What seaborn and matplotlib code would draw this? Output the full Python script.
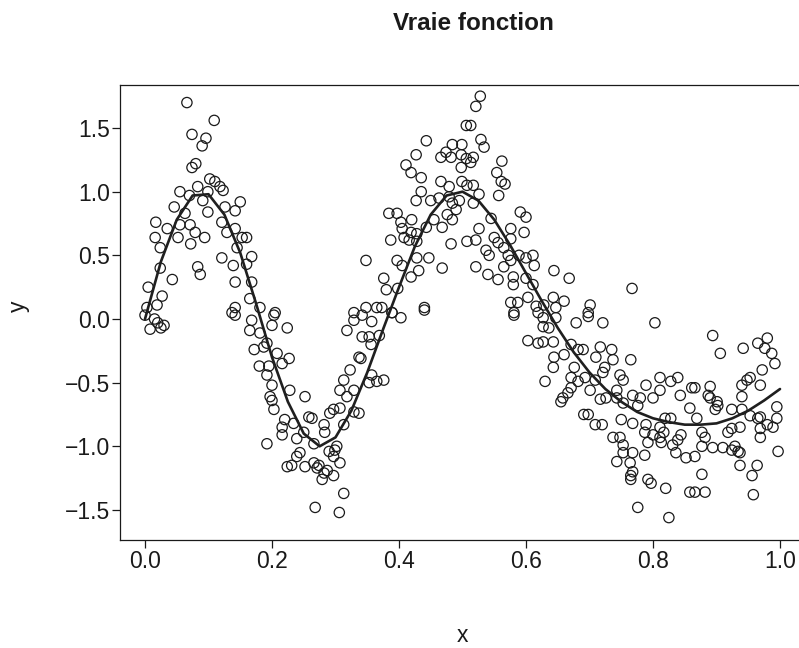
import numpy as np
import pandas as pd
import seaborn as sns
import matplotlib
matplotlib.use('Agg')
import matplotlib.pyplot as plt

# True function
curve_x = [0.0, 0.025, 0.05, 0.075, 0.1, 0.125, 0.15, 0.175, 0.2, 0.225, 0.25, 0.275, 0.3,
           0.325, 0.35, 0.375, 0.4, 0.425, 0.45, 0.475, 0.5, 0.525, 0.55, 0.575, 0.6, 0.625,
           0.65, 0.675, 0.7, 0.725, 0.75, 0.775, 0.8, 0.825, 0.85, 0.875, 0.9, 0.925, 0.95,
           0.975, 1.0]
curve_y = [0.0, 0.45, 0.78, 0.97, 0.98, 0.82, 0.52, 0.12, -0.30, -0.65, -0.90, -1.0, -0.93,
           -0.72, -0.42, -0.08, 0.25, 0.57, 0.82, 0.97, 1.0, 0.93, 0.78, 0.58, 0.36, 0.14,
           -0.07, -0.26, -0.42, -0.55, -0.65, -0.73, -0.78, -0.81, -0.83, -0.83, -0.82, -0.78,
           -0.72, -0.64, -0.55]

obs_x = [
    0.066, 0.109, 0.074, 0.096, 0.09, 0.08, 0.074, 0.102, 0.11, 0.083, 0.055, 0.118, 0.123, 0.07,
    0.091, 0.099, 0.046, 0.063, 0.099, 0.126, 0.142, 0.15, 0.017, 0.035, 0.055, 0.071, 0.079,
    0.016, 0.052, 0.094, 0.072, 0.024, 0.121, 0.129, 0.142, 0.153, 0.145, 0.121, 0.139, 0.083,
    0.087, 0.024, 0.043, 0.142, 0.005, 0.027, 0.019, 0.003, 0.142, 0.137,
    0.0, 0.008, 0.02, 0.025, 0.015, 0.03, 0.142,
    0.16, 0.168, 0.16, 0.168, 0.165, 0.181, 0.205, 0.329,
    0.168, 0.165, 0.181, 0.203, 0.2, 0.224, 0.172, 0.187, 0.192, 0.208, 0.216, 0.227, 0.18,
    0.195, 0.192, 0.2, 0.197, 0.2, 0.228, 0.252, 0.203, 0.22, 0.234, 0.216, 0.216, 0.192,
    0.239, 0.25, 0.258, 0.263, 0.266, 0.283, 0.282, 0.291, 0.297, 0.313, 0.307, 0.329, 0.313,
    0.323, 0.307, 0.318, 0.329, 0.318, 0.329, 0.337,
    0.224, 0.231, 0.239, 0.244, 0.252, 0.266, 0.271, 0.274, 0.282, 0.279, 0.287, 0.29, 0.297,
    0.299, 0.302, 0.297, 0.307, 0.313, 0.268, 0.306,
    0.342, 0.357, 0.389, 0.403, 0.44, 0.342, 0.353, 0.369, 0.356, 0.34, 0.357, 0.353, 0.365,
    0.376, 0.337,
    0.506, 0.443, 0.427, 0.411, 0.419, 0.435, 0.466, 0.474, 0.484, 0.482, 0.498, 0.499, 0.498,
    0.506, 0.466, 0.479, 0.499, 0.507, 0.435, 0.427, 0.45, 0.463, 0.479, 0.484, 0.49, 0.495,
    0.384, 0.397, 0.403, 0.405, 0.42, 0.419, 0.428, 0.443, 0.455, 0.468, 0.476, 0.484, 0.387,
    0.408, 0.416, 0.428, 0.482, 0.507, 0.348, 0.397, 0.405, 0.428, 0.447, 0.468, 0.431, 0.419,
    0.376, 0.38, 0.398, 0.348, 0.365, 0.373, 0.389, 0.44,
    0.528, 0.521, 0.513, 0.529, 0.534, 0.517, 0.513, 0.562, 0.554, 0.561, 0.567, 0.557, 0.526,
    0.517, 0.517, 0.591, 0.6, 0.545, 0.526, 0.576, 0.597, 0.55, 0.521, 0.556, 0.576, 0.565,
    0.537, 0.542, 0.572, 0.576, 0.589, 0.6, 0.611, 0.613, 0.565, 0.521, 0.54, 0.556, 0.58,
    0.58, 0.6, 0.611, 0.644, 0.668, 0.576, 0.587, 0.603, 0.616, 0.643, 0.66, 0.628, 0.647,
    0.581,
    0.581, 0.619, 0.627, 0.647, 0.627, 0.636, 0.679, 0.603, 0.619, 0.627, 0.643, 0.671, 0.644,
    0.66, 0.682, 0.643, 0.676, 0.671, 0.682, 0.671, 0.666, 0.658, 0.655, 0.63, 0.691,
    0.767, 0.701, 0.698,
    0.698, 0.721, 0.803, 0.69, 0.717, 0.735, 0.71, 0.737, 0.765, 0.724, 0.721, 0.748, 0.693,
    0.709, 0.753, 0.701, 0.743, 0.789, 0.811, 0.811, 0.828, 0.839, 0.843, 0.861, 0.717, 0.726,
    0.743, 0.768, 0.78, 0.753, 0.776, 0.8, 0.858, 0.698, 0.709, 0.72, 0.75, 0.768, 0.789,
    0.811, 0.819, 0.828, 0.787, 0.8, 0.811, 0.817, 0.844, 0.839, 0.792, 0.813, 0.831, 0.737,
    0.748, 0.753, 0.753, 0.768, 0.787, 0.836, 0.852, 0.743, 0.764, 0.768, 0.765, 0.765, 0.792,
    0.797, 0.82, 0.858, 0.776, 0.825,
    0.894, 0.906, 0.942, 0.965, 0.98, 0.976, 0.987, 0.992, 0.972, 0.953, 0.948, 0.94, 0.969,
    0.866, 0.89, 0.887, 0.89, 0.901, 0.902, 0.898, 0.94, 0.924, 0.94, 0.995, 0.869, 0.953,
    0.965, 0.969, 0.98, 0.995, 0.989, 0.937, 0.918, 0.924, 0.969, 0.969, 0.877, 0.882, 0.877,
    0.894, 0.91, 0.924, 0.929, 0.934, 0.937, 0.997, 0.866, 0.937, 0.964, 0.877, 0.956, 0.882,
    0.866, 0.958,
]
obs_y = [
    1.70, 1.56, 1.45, 1.42, 1.36, 1.22, 1.19, 1.10, 1.08, 1.04, 1.0, 1.04, 1.01, 0.97,
    0.93, 1.0, 0.88, 0.83, 0.84, 0.88, 0.85, 0.92, 0.76, 0.71, 0.74, 0.74, 0.68,
    0.64, 0.64, 0.64, 0.59, 0.56, 0.76, 0.68, 0.71, 0.64, 0.56, 0.48, 0.42, 0.41,
    0.35, 0.40, 0.31, 0.29, 0.25, 0.18, 0.11, 0.09, 0.09, 0.05,
    0.03, -0.08, -0.03, -0.07, 0.0, -0.05, 0.03,
    0.64, 0.49, 0.43, 0.29, 0.16, 0.09, 0.05, 0.05,
    -0.01, -0.09, -0.11, 0.03, -0.05, -0.07, -0.24, -0.22, -0.19, -0.27, -0.35, -0.31, -0.37,
    -0.37, -0.44, -0.52, -0.61, -0.64, -0.56, -0.61, -0.71, -0.79, -0.82, -0.85, -0.91, -0.98,
    -0.94, -0.89, -0.77, -0.78, -0.98, -0.89, -0.83, -0.74, -0.71, -0.83, -0.70, -0.73, -0.48,
    -0.40, -0.56, -0.61, -0.56, -0.09, -0.01, -0.30,
    -1.16, -1.15, -1.08, -1.05, -1.16, -1.13, -1.17, -1.15, -1.21, -1.26, -1.19, -1.04, -1.08,
    -1.03, -1.0, -1.23, -1.13, -1.37, -1.48, -1.52,
    0.03, -0.02, 0.05, 0.01, 0.07, -0.14, -0.14, -0.13, -0.20, -0.31, -0.44, -0.50, -0.49,
    -0.48, -0.74,
    1.52, 1.40, 1.29, 1.21, 1.15, 1.11, 1.27, 1.31, 1.37, 1.27, 1.29, 1.37, 1.19,
    1.26, 1.08, 1.04, 1.08, 1.05, 1.0, 0.93, 0.93, 0.95, 0.96, 0.91, 0.86, 0.93,
    0.83, 0.83, 0.76, 0.71, 0.78, 0.68, 0.67, 0.72, 0.78, 0.72, 0.82, 0.78, 0.62,
    0.64, 0.62, 0.61, 0.59, 0.61, 0.46, 0.46, 0.42, 0.48, 0.48, 0.40, 0.38, 0.33,
    0.32, 0.23, 0.24, 0.09, 0.09, 0.09, 0.05, 0.09,
    1.75, 1.67, 1.52, 1.41, 1.35, 1.27, 1.23, 1.24, 1.15, 1.08, 1.06, 0.97, 0.98,
    1.05, 0.91, 0.84, 0.80, 0.79, 0.71, 0.71, 0.68, 0.64, 0.62, 0.60, 0.63, 0.56,
    0.54, 0.50, 0.50, 0.46, 0.50, 0.48, 0.50, 0.42, 0.41, 0.41, 0.35, 0.31, 0.33,
    0.27, 0.32, 0.27, 0.38, 0.32, 0.13, 0.13, 0.17, 0.10, 0.17, 0.14, 0.11, 0.09,
    0.05,
    0.03, 0.05, 0.01, 0.01, -0.06, -0.07, -0.03, -0.17, -0.19, -0.18, -0.18, -0.20, -0.30,
    -0.28, -0.24, -0.38, -0.38, -0.46, -0.49, -0.54, -0.58, -0.62, -0.65, -0.49, -0.75,
    0.24, 0.11, 0.05,
    0.02, -0.03, -0.03, -0.24, -0.22, -0.24, -0.30, -0.32, -0.32, -0.38, -0.42, -0.44, -0.46,
    -0.48, -0.48, -0.56, -0.56, -0.52, -0.46, -0.56, -0.49, -0.46, -0.60, -0.54, -0.63, -0.62,
    -0.62, -0.60, -0.62, -0.66, -0.68, -0.62, -0.70, -0.75, -0.83, -0.83, -0.79, -0.82, -0.83,
    -0.85, -0.78, -0.78, -0.89, -0.91, -0.93, -0.89, -0.91, -0.95, -0.97, -0.97, -0.99, -0.93,
    -0.93, -0.99, -1.05, -1.05, -1.07, -1.05, -1.09, -1.12, -1.13, -1.20, -1.23, -1.26, -1.26,
    -1.29, -1.33, -1.36, -1.48, -1.56,
    -0.13, -0.27, -0.23, -0.19, -0.15, -0.23, -0.27, -0.35, -0.40, -0.46, -0.48, -0.52, -0.52,
    -0.54, -0.53, -0.60, -0.62, -0.65, -0.68, -0.71, -0.61, -0.71, -0.71, -0.69, -0.78, -0.76,
    -0.78, -0.77, -0.83, -0.78, -0.85, -0.85, -0.89, -0.86, -0.86, -0.93, -0.89, -0.93, -1.0,
    -1.01, -1.01, -1.03, -1.0, -1.04, -1.05, -1.04, -1.08, -1.15, -1.15, -1.22, -1.23, -1.36,
    -1.36, -1.38,
]

x_ticks = [0.0, 0.2, 0.4, 0.6, 0.8, 1.0]
x_tick_labels = ['0.0', '0.2', '0.4', '0.6', '0.8', '1.0']
y_ticks = [-1.5, -1.0, -0.5, 0.0, 0.5, 1.0, 1.5]
y_tick_labels = ['\u22121.5', '\u22121.0', '\u22120.5', '0.0', '0.5', '1.0', '1.5']

obs = pd.DataFrame({'x': obs_x, 'y': obs_y})
curve = pd.DataFrame({'x': curve_x, 'y': curve_y})

sns.set_style('white')
plt.rcParams['font.family'] = ['Liberation Sans', 'DejaVu Sans']

fig = plt.figure(figsize=(7.99, 6.48), dpi=100)
W, H = 799, 648
ax = fig.add_axes([119.6 / W, 1 - 540 / H, 685.8 / W, 455 / H])

sns.scatterplot(data=obs, x='x', y='y', ax=ax, s=55, marker='o',
                facecolors='none', edgecolor='#1a1a1a', linewidth=0.9)
ax.collections[-1].set_facecolor('none')
sns.lineplot(data=curve, x='x', y='y', ax=ax, color='#1f1f1f', linewidth=1.9)

ax.set_xlim(-0.04, 1.04)
ax.set_ylim(-1.736, 1.838)
ax.set_xticks(x_ticks)
ax.set_xticklabels(x_tick_labels)
ax.set_yticks(y_ticks)
ax.set_yticklabels(y_tick_labels)
ax.tick_params(direction='out', length=6, width=0.9, color='#1a1a1a',
               labelsize=16.5, pad=1, labelcolor='#1a1a1a')
ax.tick_params(axis='both', which='both', bottom=True, left=True)
for sp in ax.spines.values():
    sp.set_visible(True)
    sp.set_color('#1a1a1a')
    sp.set_linewidth(0.9)

ax.set_xlabel('')
ax.set_ylabel('')
fig.text(462 / W, 1 - 635 / H, 'x', ha='center', va='center',
         fontsize=16.5, color='#1a1a1a')
fig.text(18 / W, 1 - 306 / H, 'y', ha='center', va='center', rotation=90,
         fontsize=16.5, color='#1a1a1a')
fig.text(473 / W, 1 - 23 / H, 'Vraie fonction', ha='center', va='center',
         fontsize=17.5, fontweight='bold', color='#1a1a1a')

fig.savefig('out.png', dpi=100)
